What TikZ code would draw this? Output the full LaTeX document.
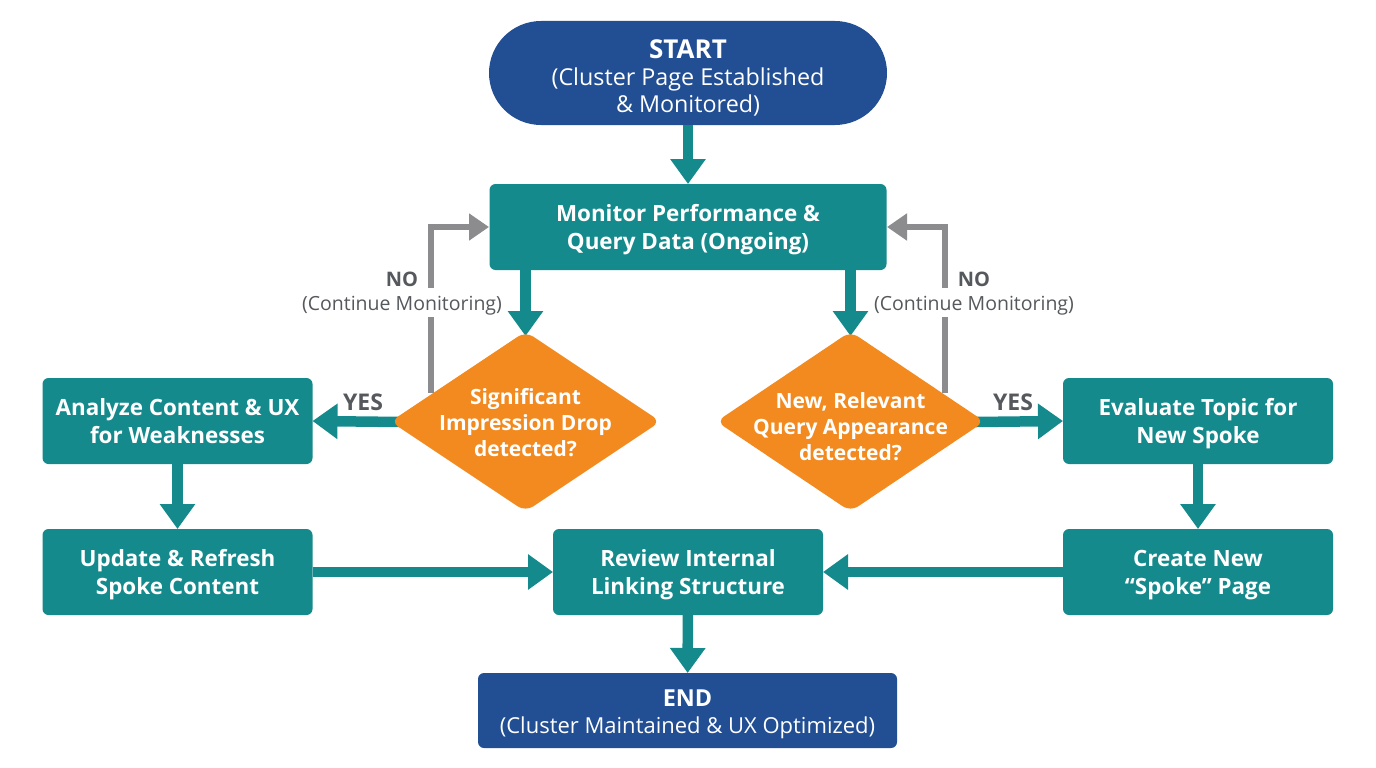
\documentclass[tikz,border=0pt]{standalone}
\usepackage{fontspec}
\setmainfont{Open Sans}
\usetikzlibrary{arrows.meta,calc,shapes.geometric}
\definecolor{navy}{HTML}{224E93}
\definecolor{teal1}{HTML}{148A8C}
\definecolor{org}{HTML}{F28A20}
\definecolor{gry}{HTML}{8C8C8F}
\definecolor{txtg}{HTML}{55585C}
\newcommand{\mytopstrut}[1]{\rule{0pt}{#1pt}}
\newcommand{\mybotstrut}[1]{\rule[-#1pt]{0pt}{#1pt}}
\newcommand{\twolines}[2]{\mytopstrut{24}#1\\#2\mybotstrut{8}}
\newcommand{\startsub}{\fontsize{23.3}{27}\selectfont\mdseries}
\newcommand{\finishsub}{\fontsize{22}{27}\selectfont\mdseries}
\tikzset{
  x=1pt,y=-1pt,
  base/.style={inner sep=0pt,outer sep=0pt,align=center,text=white,font=\fontsize{22.4}{28}\selectfont\bfseries},
  tealbox/.style={base,fill=teal1,rounded corners=6pt,minimum width=270pt,minimum height=86pt},
  monbox/.style={tealbox,minimum width=397pt},
  startbox/.style={base,font=\fontsize{23.3}{27}\selectfont\bfseries,fill=navy,rounded corners=52pt,minimum width=398pt,minimum height=104pt},
  endbox/.style={base,font=\fontsize{23.4}{27}\selectfont\bfseries,fill=navy,rounded corners=6pt,minimum width=419pt,minimum height=75pt},
  decide/.style={base,text=white,font=\fontsize{21}{26}\selectfont\bfseries},
  tflow/.style={draw=teal1,line width=10.5pt,-{Triangle[width=34pt,length=25pt]}},
  gflow/.style={draw=gry,line width=6.5pt,-{Triangle[width=26pt,length=20pt]}},
  lab/.style={inner sep=0pt,text=txtg,align=center,font=\fontsize{19.5}{24}\selectfont},
  labb/.style={lab,font=\fontsize{20}{24}\selectfont\bfseries},
  yeslab/.style={lab,font=\fontsize{23}{24}\selectfont\bfseries},
  decshape/.style={fill=org,rounded corners=9pt},
}
\begin{document}
\begin{tikzpicture}
\useasboundingbox (0,0) rectangle (1376,768);
\fill[white] (0,0) rectangle (1376,768);
% nodes
\node[startbox] (start) at (688,73) {\mytopstrut{30}{\fontsize{26}{27}\selectfont START}\\\startsub (Cluster Page Established\\\startsub \& Monitored)\mybotstrut{6}};
\node[monbox] (monitor) at (688,227) {\twolines{Monitor Performance \&}{Query Data (Ongoing)}};
\node[tealbox] (analyze) at (177.5,421) {\twolines{Analyze Content \& UX}{for Weaknesses}};
\node[tealbox] (update) at (177.5,572) {\twolines{Update \& Refresh}{Spoke Content}};
\node[tealbox] (review) at (688,572) {\twolines{Review Internal}{Linking Structure}};
\node[tealbox] (evaluate) at (1198,421) {\twolines{Evaluate Topic for}{New Spoke}};
\node[tealbox] (create) at (1198,572) {\twolines{Create New}{“Spoke” Page}};
\node[endbox] (end) at (687.5,710.5) {\mytopstrut{26}END\\\finishsub (Cluster Maintained \& UX Optimized)\mybotstrut{7}};
% diamonds
\coordinate (dropL) at (400,422);
\coordinate (queryR) at (976,422);
\coordinate (dropT) at (525.5,336);
\coordinate (queryT) at (850.5,336);
\coordinate (monL) at (489,227);
\coordinate (monR) at (887,227);
\coordinate (dropN) at (431,393);
\coordinate (queryN) at (945,393);
% connectors
\draw[gflow] (dropN) |- (monL);
\draw[gflow] (queryN) |- (monR);
\draw[tflow] (start.south) -- (monitor.north);
\draw[tflow] (monitor.south -| dropT) -- (dropT);
\draw[tflow] (monitor.south -| queryT) -- (queryT);
\draw[tflow] (dropL) -- (analyze.east);
\draw[tflow] (queryR) -- (evaluate.west);
\draw[tflow] (analyze) -- (update);
\draw[tflow] (evaluate) -- (create);
\draw[tflow] (update) -- (review);
\draw[tflow] (create) -- (review);
\draw[tflow] (review) -- (end);
\fill[decshape] (525.5,331.5) -- (660.5,421.5) -- (525.5,511.5) -- (390.5,421.5) -- cycle;
\fill[decshape] (850.5,331.5) -- (984.5,421.5) -- (850.5,511.5) -- (716.5,421.5) -- cycle;
\node[decide] (drop) at (525.5,423) {Significant\\Impression Drop\\detected?};
\node[decide] (query) at (850.5,427) {New, Relevant\\Query Appearance\\detected?};
% labels
\node[lab,fill=white,minimum height=29pt] (contL) at (402,302.5) {\mytopstrut{21}(Continue Monitoring)};
\node[labb] (noL) at (402,279) {NO};
\node[lab,fill=white,minimum height=29pt] (contR) at (974,302.5) {\mytopstrut{21}(Continue Monitoring)};
\node[labb] (noR) at (974,279) {NO};
\node[yeslab] (yesL) at (363,402) {YES};
\node[yeslab] (yesR) at (1013,402) {YES};
\end{tikzpicture}
\end{document}
